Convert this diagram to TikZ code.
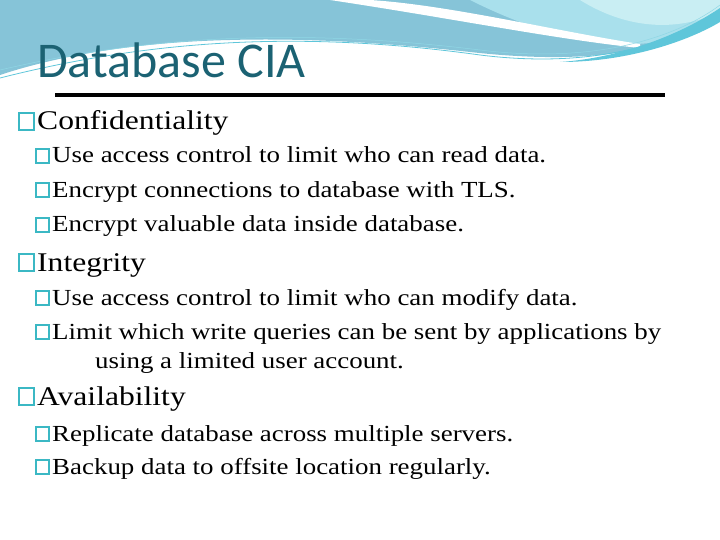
\documentclass[tikz,border=0pt]{standalone}
\usepackage{fontspec}
\setmainfont[FakeStretch=1.17]{Liberation Serif}
\newfontfamily\titlefont{Carlito}
\definecolor{wvA}{HTML}{86C4D8}
\definecolor{wvB}{HTML}{A9E0EC}
\definecolor{wvC}{HTML}{C9EEF3}
\definecolor{wvD}{HTML}{5FC6DA}
\definecolor{ttl}{HTML}{1B6273}
\definecolor{bulc}{HTML}{3BB8C4}
\begin{document}
\begin{tikzpicture}[x=1pt,y=-1pt,
  lone/.style={anchor=base west,inner sep=0,font=\fontsize{27}{30}\selectfont},
  ltwo/.style={anchor=base west,inner sep=0,font=\fontsize{23}{26}\selectfont},
  bul/.style={draw=bulc,line width=1.3pt}]
\useasboundingbox (0,0) rectangle (720,540);
% wave decoration
\fill[wvA] (0,0) -- (720,0) -- (720,20) .. controls (650,60) and (560,62) .. (470,52) .. controls (380,42) and (300,38) .. (230,40) .. controls (140,42) and (60,55) .. (0,75) -- cycle;
\fill[wvB] (470,0) -- (720,0) -- (720,20) .. controls (660,55) and (580,55) .. (470,0) -- cycle;
\fill[wvC] (580,0) -- (720,0) -- (720,12) .. controls (670,35) and (620,25) .. (580,0) -- cycle;
\fill[white] (330,0) .. controls (450,18) and (560,40) .. (640,48) -- (640,44) .. controls (560,32) and (450,5) .. (370,0) -- cycle;
\fill[wvD] (720,8) .. controls (680,35) and (620,58) .. (560,62) .. controls (630,62) and (690,40) .. (720,22) -- cycle;
\draw[wvD,line width=0.8pt] (0,78) .. controls (150,40) and (300,30) .. (480,55) .. controls (600,70) and (680,40) .. (720,10);
\draw[wvD!70,line width=0.5pt] (0,70) .. controls (150,35) and (300,28) .. (480,50) .. controls (600,65) and (680,35) .. (720,5);
% title
\node[anchor=base west,inner sep=0,font=\titlefont\fontsize{50}{56}\selectfont,text=ttl] (title) at (37,78) {Database CIA};
\draw[line width=4pt] (55,95) -- (665,95);
% bullets
\foreach \y in {130,271,405} \draw[bul] (19,\y-17) rectangle (34,\y);
\foreach \y in {163,197,232,305,339,441,474} \draw[bul] (36,\y-14) rectangle (49,\y);
\node[lone] (c) at (37,130) {Confidentiality};
\node[ltwo] (c1) at (52,163) {Use access control to limit who can read data.};
\node[ltwo] (c2) at (52,197) {Encrypt connections to database with TLS.};
\node[ltwo] (c3) at (52,232) {Encrypt valuable data inside database.};
\node[lone] (i) at (37,271) {Integrity};
\node[ltwo] (i1) at (52,305) {Use access control to limit who can modify data.};
\node[ltwo] (i2) at (52,339) {Limit which write queries can be sent by applications by};
\node[ltwo] (i3) at (95,368) {using a limited user account.};
\node[lone] (a) at (37,405) {Availability};
\node[ltwo] (a1) at (52,441) {Replicate database across multiple servers.};
\node[ltwo] (a2) at (52,474) {Backup data to offsite location regularly.};
\end{tikzpicture}
\end{document}
